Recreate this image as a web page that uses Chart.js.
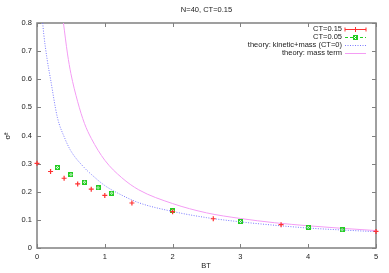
<!DOCTYPE html>
<html lang="en">
<head>
<meta charset="UTF-8">
<title>N=40, CT=0.15</title>
<script src="https://cdn.jsdelivr.net/npm/chart.js"></script>
<style>
  html, body { margin: 0; padding: 0; background: #fff; }
  #wrap { width: 389px; height: 273px; }
</style>
</head>
<body>
<div id="wrap"><canvas id="c" width="389" height="273"></canvas></div>
<script>
// values
const titleText = 'N=40, CT=0.15';
const xLabel = 'BT';
const yLabel = 'σ̃²';

const redX = [0, 0.2, 0.4, 0.6, 0.8, 1.0, 1.4, 2.0, 2.6, 3.6, 5.0];
const redY = [0.301, 0.272, 0.248, 0.228, 0.209, 0.187, 0.160, 0.129, 0.104, 0.083, 0.059];

const greenX = [0.3, 0.5, 0.7, 0.9, 1.1, 2.0, 3.0, 4.0, 4.5];
const greenY = [0.286, 0.261, 0.234, 0.214, 0.195, 0.133, 0.094, 0.073, 0.065];

// theory: kinetic+mass (CT=0), sampled from the dotted blue curve
const kinX = [0.084, 0.1, 0.15, 0.2, 0.3, 0.41, 0.5, 0.7, 0.8, 1.0, 1.25, 1.5, 2.0, 2.5, 3.0, 3.5, 4.0, 4.5, 5.0];
const kinY = [0.80, 0.76, 0.67, 0.60, 0.465, 0.39, 0.345, 0.285, 0.262, 0.222, 0.188, 0.161, 0.130, 0.108, 0.093, 0.081, 0.071, 0.064, 0.058];

// theory: mass term, sampled from the pink curve
const massX = [0.39, 0.45, 0.5, 0.6, 0.7, 0.8, 1.0, 1.25, 1.5, 2.0, 2.5, 3.0, 3.5, 4.0, 4.5, 5.0];
const massY = [0.80, 0.69, 0.62, 0.52, 0.443, 0.39, 0.312, 0.25, 0.207, 0.158, 0.125, 0.105, 0.09, 0.079, 0.07, 0.062];

const legendLabels = ['CT=0.15', 'CT=0.05', 'theory: kinetic+mass (CT=0)', 'theory: mass term'];

const RED = '#ff3030';
const GREEN = '#22cc22';
const BLUE = '#7878ff';
const PINK = '#f49cf4';
const FONT = '7.5px "Liberation Sans", Arial, sans-serif';

function pts(xs, ys) { return xs.map((x, i) => ({ x: x, y: ys[i] })); }

// green marker: small x inside a box (gnuplot style with bar ends)
function greenMarker() {
  const c = document.createElement('canvas');
  c.width = 5; c.height = 5;
  const g = c.getContext('2d');
  g.strokeStyle = GREEN; g.lineWidth = 1;
  g.strokeRect(0.5, 0.5, 4, 4);
  g.beginPath();
  g.moveTo(1, 1); g.lineTo(4, 4);
  g.moveTo(4, 1); g.lineTo(1, 4);
  g.stroke();
  return c;
}
const gMark = greenMarker();

const framePlugin = {
  id: 'frame',
  beforeDatasetsDraw(chart) {
    // border drawn under the marks so the point at BT=0 sits on top
    const ctx = chart.ctx;
    const a = chart.chartArea;
    const xs = chart.scales.x, ys = chart.scales.y;
    ctx.save();
    ctx.strokeStyle = '#808080';
    ctx.lineWidth = 1.5;
    ctx.strokeRect(a.left, a.top, a.right - a.left, a.bottom - a.top);
    // inward ticks on all four sides
    ctx.lineWidth = 1;
    ctx.beginPath();
    xs.ticks.forEach(t => {
      const px = Math.round(xs.getPixelForValue(t.value)) + 0.5;
      ctx.moveTo(px, a.bottom); ctx.lineTo(px, a.bottom - 4);
      ctx.moveTo(px, a.top); ctx.lineTo(px, a.top + 4);
    });
    ys.ticks.forEach(t => {
      const py = Math.round(ys.getPixelForValue(t.value)) + 0.5;
      ctx.moveTo(a.left, py); ctx.lineTo(a.left + 4, py);
      ctx.moveTo(a.right, py); ctx.lineTo(a.right - 4, py);
    });
    ctx.stroke();
    ctx.restore();
  },
  afterDraw(chart) {
    const ctx = chart.ctx;
    const a = chart.chartArea;
    ctx.save();
    // title and axis labels
    ctx.fillStyle = '#222';
    ctx.font = FONT;
    ctx.textAlign = 'center';
    ctx.textBaseline = 'middle';
    ctx.fillText(titleText, (a.left + a.right) / 2, 10);
    ctx.fillText(xLabel, 206, 266);
    ctx.save();
    ctx.translate(8, 136);
    ctx.rotate(-Math.PI / 2);
    ctx.fillText(yLabel, 0, 0);
    ctx.restore();

    // legend, text right-aligned with the sample after it
    const textRight = 342, s0 = 345, s1 = 366;
    legendLabels.forEach((lab, i) => {
      const y = 29 + i * 8;
      ctx.fillStyle = '#222';
      ctx.textAlign = 'right';
      ctx.fillText(lab, textRight, y);
      const ly = Math.round(y) + 0.5;
      ctx.lineWidth = 1;
      ctx.setLineDash([]);
      if (i === 0) {
        ctx.strokeStyle = RED;
        ctx.beginPath();
        ctx.moveTo(s0, ly); ctx.lineTo(s1, ly);
        ctx.moveTo(s0, ly - 2); ctx.lineTo(s0, ly + 2);
        ctx.moveTo(s1, ly - 2); ctx.lineTo(s1, ly + 2);
        const m = (s0 + s1) / 2;
        ctx.moveTo(m, ly - 2.5); ctx.lineTo(m, ly + 2.5);
        ctx.stroke();
      } else if (i === 1) {
        ctx.strokeStyle = GREEN;
        ctx.setLineDash([3, 2]);
        ctx.beginPath();
        ctx.moveTo(s0, ly); ctx.lineTo(s1, ly);
        ctx.stroke();
        ctx.setLineDash([]);
        ctx.drawImage(gMark, Math.round((s0 + s1) / 2 - 2.5), Math.round(ly - 2.5));
      } else if (i === 2) {
        ctx.strokeStyle = BLUE;
        ctx.setLineDash([1, 1.5]);
        ctx.beginPath();
        ctx.moveTo(s0, ly); ctx.lineTo(s1, ly);
        ctx.stroke();
      } else {
        ctx.strokeStyle = PINK;
        ctx.beginPath();
        ctx.moveTo(s0, ly); ctx.lineTo(s1, ly);
        ctx.stroke();
      }
    });
    ctx.restore();
  }
};

new Chart(document.getElementById('c'), {
  type: 'scatter',
  data: {
    datasets: [
      {
        label: legendLabels[2],
        data: pts(kinX, kinY),
        showLine: true,
        borderColor: BLUE,
        borderWidth: 1,
        borderDash: [1, 1.5],
        pointRadius: 0,
        cubicInterpolationMode: 'monotone',
        order: 3
      },
      {
        label: legendLabels[3],
        data: pts(massX, massY),
        showLine: true,
        borderColor: PINK,
        borderWidth: 1,
        pointRadius: 0,
        cubicInterpolationMode: 'monotone',
        order: 4
      },
      {
        label: legendLabels[0],
        data: pts(redX, redY),
        showLine: false,
        clip: false,
        pointStyle: 'cross',
        pointRadius: 2.5,
        borderWidth: 1.2,
        borderColor: RED,
        backgroundColor: RED,
        order: 1
      },
      {
        label: legendLabels[1],
        data: pts(greenX, greenY),
        showLine: false,
        pointStyle: gMark,
        pointRadius: 2.5,
        borderColor: GREEN,
        backgroundColor: GREEN,
        order: 2
      }
    ]
  },
  options: {
    responsive: false,
    animation: false,
    events: [],
    layout: { padding: { top: 23, right: 13, left: 0, bottom: 0 } },
    plugins: {
      legend: { display: false },
      title: { display: false },
      tooltip: { enabled: false }
    },
    scales: {
      x: {
        type: 'linear',
        min: 0, max: 5,
        ticks: { stepSize: 1, color: '#222', font: { family: 'Liberation Sans', size: 7.5 }, padding: 4, maxRotation: 0 },
        grid: { display: false, drawTicks: false },
        border: { display: false },
        afterFit(s) { s.height = 25; }
      },
      y: {
        type: 'linear',
        min: 0, max: 0.8,
        ticks: { stepSize: 0.1, color: '#222', font: { family: 'Liberation Sans', size: 7.5 }, padding: 5,
          callback: v => String(Math.round(v * 10) / 10) },
        grid: { display: false, drawTicks: false },
        border: { display: false },
        afterFit(s) { s.width = 37; }
      }
    }
  },
  plugins: [framePlugin]
});
</script>
</body>
</html>
